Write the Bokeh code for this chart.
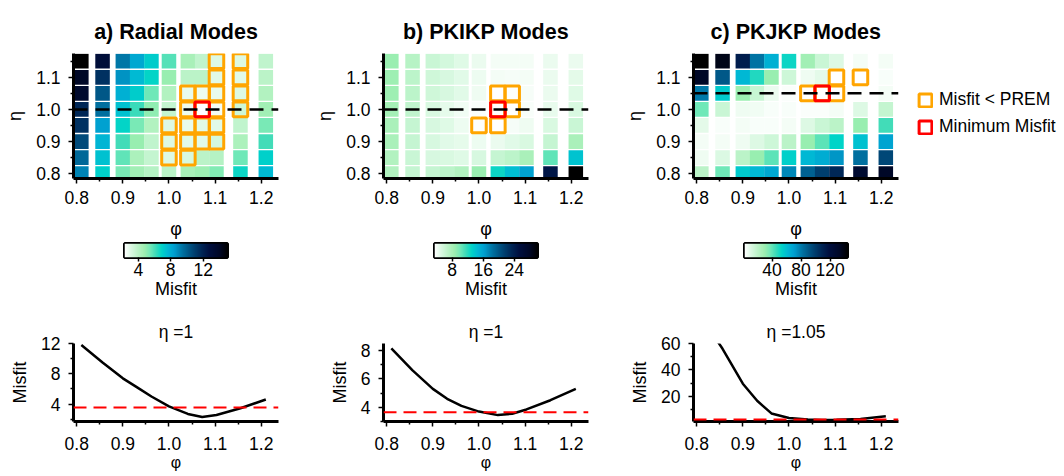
import numpy as np
from bokeh.plotting import figure
from bokeh.layouts import column, row
from bokeh.models import (ColumnDataSource, LinearColorMapper, FixedTicker, Span,
                          Legend, LegendItem, Range1d)
from bokeh.embed import file_html
from bokeh.resources import INLINE

# ---------------- data ----------------
phi = [0.81, 0.856, 0.9, 0.931, 0.962, 1.0, 1.041, 1.072, 1.103, 1.155, 1.21]
eta = [0.8, 0.85, 0.9, 0.95, 1.0, 1.05, 1.1, 1.15]

# rows: eta ascending (0.80 ... 1.15), columns: phi
misfit_radial = [
    [9.0, 7.0, 5.35, 4.6, 4.1, 3.95, 4.45, 4.7, 5.2, 6.75, 7.6],
    [9.7, 7.4, 5.7, 4.35, 3.7, 3.05, 3.2, 3.95, 4.1, 5.5, 7.0],
    [10.6, 7.75, 6.1, 4.85, 3.8, 3.05, 2.95, 2.95, 3.3, 4.35, 6.1],
    [11.4, 8.4, 6.85, 5.35, 4.2, 3.05, 2.8, 2.95, 2.95, 3.8, 5.35],
    [11.8, 9.5, 7.4, 6.2, 5.0, 3.7, 2.7, 2.3, 2.55, 3.45, 4.6],
    [13.7, 10.2, 7.9, 7.1, 5.5, 4.2, 2.8, 2.7, 2.8, 3.05, 4.2],
    [14.0, 11.4, 8.65, 7.6, 6.85, 4.85, 3.95, 3.95, 2.95, 2.95, 3.95],
    [15.0, 13.1, 9.3, 8.15, 7.1, 5.85, 4.45, 3.8, 3.05, 3.05, 3.8],
]
misfit_pkikp = [
    [7.4, 6.35, 6.35, 6.85, 7.4, 8.7, 12.7, 14.3, 16.2, 24.7, 30.0],
    [7.4, 6.05, 5.4, 5.25, 5.0, 5.4, 6.35, 6.85, 7.9, 10.6, 14.0],
    [7.9, 6.35, 5.4, 4.85, 4.6, 4.35, 4.45, 4.85, 5.25, 6.35, 7.9],
    [7.9, 6.35, 5.4, 5.0, 4.35, 3.6, 3.55, 3.95, 4.2, 5.25, 6.05],
    [8.15, 6.6, 5.3, 4.6, 4.1, 3.7, 3.45, 3.55, 3.85, 4.5, 5.3],
    [8.45, 6.85, 5.8, 5.4, 4.85, 4.2, 3.5, 3.6, 3.95, 4.45, 5.0],
    [8.45, 6.85, 5.8, 5.4, 4.85, 4.3, 4.05, 3.95, 4.05, 4.45, 4.75],
    [8.7, 7.1, 6.05, 5.55, 5.0, 4.45, 4.05, 4.05, 4.05, 4.45, 4.45],
]
misfit_pkjkp = [
    [20.5, 37.6, 56.0, 61.7, 67.4, 75.9, 87.2, 98.6, 108.5, 127.0, 132.6],
    [6.4, 11.3, 20.5, 30.5, 40.4, 54.6, 61.7, 66.0, 73.0, 83.0, 95.8],
    [4.9, 4.9, 6.4, 10.6, 14.9, 20.5, 30.5, 40.4, 53.2, 58.9, 68.8],
    [9.2, 4.2, 4.9, 4.2, 4.2, 4.9, 10.6, 16.3, 20.5, 30.5, 44.7],
    [37.6, 16.3, 6.4, 5.6, 4.2, 4.2, 3.5, 3.5, 4.9, 10.6, 17.7],
    [80.0, 56.0, 29.6, 16.7, 7.1, 3.6, 2.45, 2.1, 2.35, 2.9, 4.9],
    [132.6, 90.1, 61.7, 48.9, 30.5, 14.9, 6.4, 9.2, 2.4, 2.5, 4.2],
    [144.0, 136.9, 112.8, 81.6, 64.5, 51.8, 27.6, 16.3, 10.6, 4.9, 4.9],
]
misfits = [misfit_radial, misfit_pkikp, misfit_pkjkp]
prem_misfit = [3.55, 3.65, 2.6]
eta_slice = [1.0, 1.0, 1.05]
titles = ["a) Radial Modes", "b) PKIKP Modes", "c) PKJKP Modes"]
phi_ticks = [0.8, 0.9, 1.0, 1.1, 1.2]
eta_ticks = [0.8, 0.9, 1.0, 1.1]
cbar_ticks = [[4, 8, 12], [8, 16, 24], [40, 80, 120]]
line_ticks = [[4, 8, 12], [4, 6, 8], [20, 40, 60]]
line_minor = [[2, 6, 10], [3, 5, 7], [10, 30, 50]]
line_ylim = [(1.7, 12.0), (3.0, 8.5), (1.0, 60.0)]

# ---------------- style ----------------
FONT = "Liberation Sans"
CELL_W = 0.0315
CELL_H = 0.046
XR = (0.793, 1.2375)
YR = (0.785, 1.174)

anchors = [(0.00, "#ffffff"), (0.05, "#e2fae8"), (0.10, "#c8f6d4"), (0.17, "#a8f0b8"),
           (0.20, "#98eeb0"), (0.25, "#70e8b8"), (0.30, "#40dcb8"), (0.36, "#00d4c8"),
           (0.42, "#00b8d4"), (0.48, "#00a0d0"), (0.55, "#0078a8"), (0.62, "#005888"),
           (0.72, "#003060"), (0.82, "#001040"), (0.92, "#000828"), (1.00, "#000000")]
_f = np.array([a[0] for a in anchors])
_c = np.array([[int(h[i:i + 2], 16) for i in (1, 3, 5)] for _, h in anchors], dtype=float)
PALETTE = []
for t in np.linspace(0, 1, 256):
    r, g, b = (int(round(np.interp(t, _f, _c[:, j]))) for j in range(3))
    PALETTE.append("#%02x%02x%02x" % (r, g, b))


def style_axes(p):
    for ax in p.axis:
        ax.axis_line_width = 3
        ax.axis_line_color = "black"
        ax.major_tick_line_width = 1.5
        ax.major_tick_out = 5
        ax.major_tick_in = 0
        ax.minor_tick_line_width = 1.5
        ax.minor_tick_out = 3
        ax.minor_tick_in = 0
        ax.major_label_standoff = 8
        ax.axis_label_standoff = 8
        ax.major_label_text_font = FONT
        ax.major_label_text_font_size = "17.5px"
        ax.major_label_text_color = "black"
        ax.axis_label_text_font = FONT
        ax.axis_label_text_font_size = "18px"
        ax.axis_label_text_font_style = "normal"
        ax.axis_label_text_color = "black"
    p.grid.visible = False
    p.outline_line_color = None


def heat_fig(k, extra_right=0):
    grid = np.array(misfits[k], dtype=float)
    mapper = LinearColorMapper(palette=PALETTE, low=grid.min(), high=grid.max())
    p = figure(frame_width=205, frame_height=125, min_border_left=73,
               min_border_right=32 + extra_right, min_border_top=53, min_border_bottom=34,
               x_range=Range1d(*XR), y_range=Range1d(*YR),
               output_backend="svg", toolbar_location=None, tools="")
    xs, ys, vs = [], [], []
    for i, e in enumerate(eta):
        for j, f in enumerate(phi):
            xs.append(f); ys.append(e); vs.append(grid[i, j])
    src = ColumnDataSource(dict(x=xs, y=ys, v=vs))
    p.rect(x="x", y="y", width=CELL_W, height=CELL_H, source=src,
           fill_color={"field": "v", "transform": mapper}, line_color=None)
    p.add_layout(Span(location=eta_slice[k], dimension="width", line_color="black",
                      line_dash="14 8", line_width=2.5))
    vs_a = np.array(vs)
    mask = vs_a < prem_misfit[k]
    bsrc = ColumnDataSource(dict(x=list(np.array(xs)[mask]), y=list(np.array(ys)[mask])))
    orange = p.rect(x="x", y="y", width=CELL_W, height=CELL_H, source=bsrc,
                    fill_color=None, line_color="#ffa500", line_width=3)
    im = int(np.argmin(vs_a))
    red = p.rect(x=[xs[im]], y=[ys[im]], width=CELL_W, height=CELL_H,
                 fill_color=None, line_color="#ff0000", line_width=3)
    p.title.text = titles[k]
    p.title.align = "center"
    p.title.text_font = FONT
    p.title.text_font_size = "21.5px"
    p.title.text_font_style = "bold"
    p.title.text_color = "black"
    p.title.standoff = 20
    style_axes(p)
    p.xaxis.major_label_standoff = 7
    p.xaxis.ticker = FixedTicker(ticks=phi_ticks, minor_ticks=[0.85, 0.95, 1.05, 1.15])
    p.yaxis.ticker = FixedTicker(ticks=eta_ticks, minor_ticks=[0.85, 0.95, 1.05, 1.15])
    p.xaxis.major_label_overrides = {t: "%.1f" % t for t in phi_ticks}
    p.yaxis.major_label_overrides = {t: "%.1f" % t for t in eta_ticks}
    p.yaxis.axis_label = "η"
    return p, mapper, orange, red


def cbar_fig(k, mapper):
    grid = np.array(misfits[k], dtype=float)
    lo, hi = grid.min(), grid.max()
    p = figure(frame_width=103, frame_height=14, min_border_left=124, min_border_right=83,
               min_border_top=31, min_border_bottom=59,
               x_range=Range1d(lo, hi), y_range=Range1d(0, 1), y_axis_location=None,
               output_backend="svg", toolbar_location=None, tools="")
    p.image(image=[np.linspace(lo, hi, 256).reshape(1, -1)], x=lo, y=0, dw=hi - lo, dh=1,
            color_mapper=mapper)
    style_axes(p)
    p.outline_line_color = "black"
    p.outline_line_width = 3
    p.xaxis.axis_line_color = None
    p.xaxis.major_tick_out = 4
    p.xaxis.major_label_standoff = 1
    p.xaxis.axis_label_standoff = 0
    p.xaxis.ticker = FixedTicker(ticks=cbar_ticks[k])
    p.xaxis.axis_label = "Misfit"
    # phi label of the heatmap above sits right over the colour bar
    p.title.text = "φ"
    p.title.align = "center"
    p.title.text_font = FONT
    p.title.text_font_size = "18px"
    p.title.text_font_style = "normal"
    p.title.text_color = "black"
    p.title.standoff = 9
    return p


def line_fig(k):
    grid = np.array(misfits[k], dtype=float)
    p = figure(frame_width=205, frame_height=78, min_border_left=73, min_border_right=32,
               min_border_top=27, min_border_bottom=55,
               x_range=Range1d(*XR), y_range=Range1d(*line_ylim[k]),
               output_backend="svg", toolbar_location=None, tools="")
    slice_vals = grid[eta.index(eta_slice[k])]
    p.line(phi, list(slice_vals), line_color="black", line_width=2.5)
    p.add_layout(Span(location=prem_misfit[k], dimension="width", line_color="#ff0000",
                      line_dash="13 7", line_width=2))
    p.title.text = "η =%g" % eta_slice[k]
    p.title.align = "center"
    p.title.text_font = FONT
    p.title.text_font_size = "17.5px"
    p.title.text_font_style = "normal"
    p.title.text_color = "black"
    p.title.standoff = 4
    style_axes(p)
    p.xaxis.major_label_standoff = 10
    p.xaxis.axis_label_standoff = 1
    p.xaxis.ticker = FixedTicker(ticks=phi_ticks, minor_ticks=[0.85, 0.95, 1.05, 1.15])
    p.xaxis.major_label_overrides = {t: "%.1f" % t for t in phi_ticks}
    p.yaxis.ticker = FixedTicker(ticks=line_ticks[k], minor_ticks=line_minor[k])
    p.xaxis.axis_label = "φ"
    p.xaxis.axis_label_text_font_size = "16px"
    p.yaxis.axis_label = "Misfit"
    return p


tops, cbars, lines = [], [], []
for k in range(3):
    extra = 134 if k == 2 else 0
    p, mapper, orange, red = heat_fig(k, extra)
    if k == 2:
        legend = Legend(items=[LegendItem(label="Misfit < PREM", renderers=[orange]),
                               LegendItem(label="Minimum Misfit", renderers=[red])],
                        location=(19, 41), orientation="vertical",
                        glyph_width=16, glyph_height=16, label_height=20,
                        label_standoff=6, spacing=6, padding=0, margin=0,
                        border_line_color=None, background_fill_alpha=0,
                        label_text_font=FONT, label_text_font_size="17.5px",
                        label_text_color="black")
        p.add_layout(legend, "right")
    tops.append(p)
    cbars.append(cbar_fig(k, mapper))
    lines.append(line_fig(k))

layout = column(row(*tops), row(*cbars), row(*lines))
open("out.html", "w").write(file_html(layout, INLINE))
